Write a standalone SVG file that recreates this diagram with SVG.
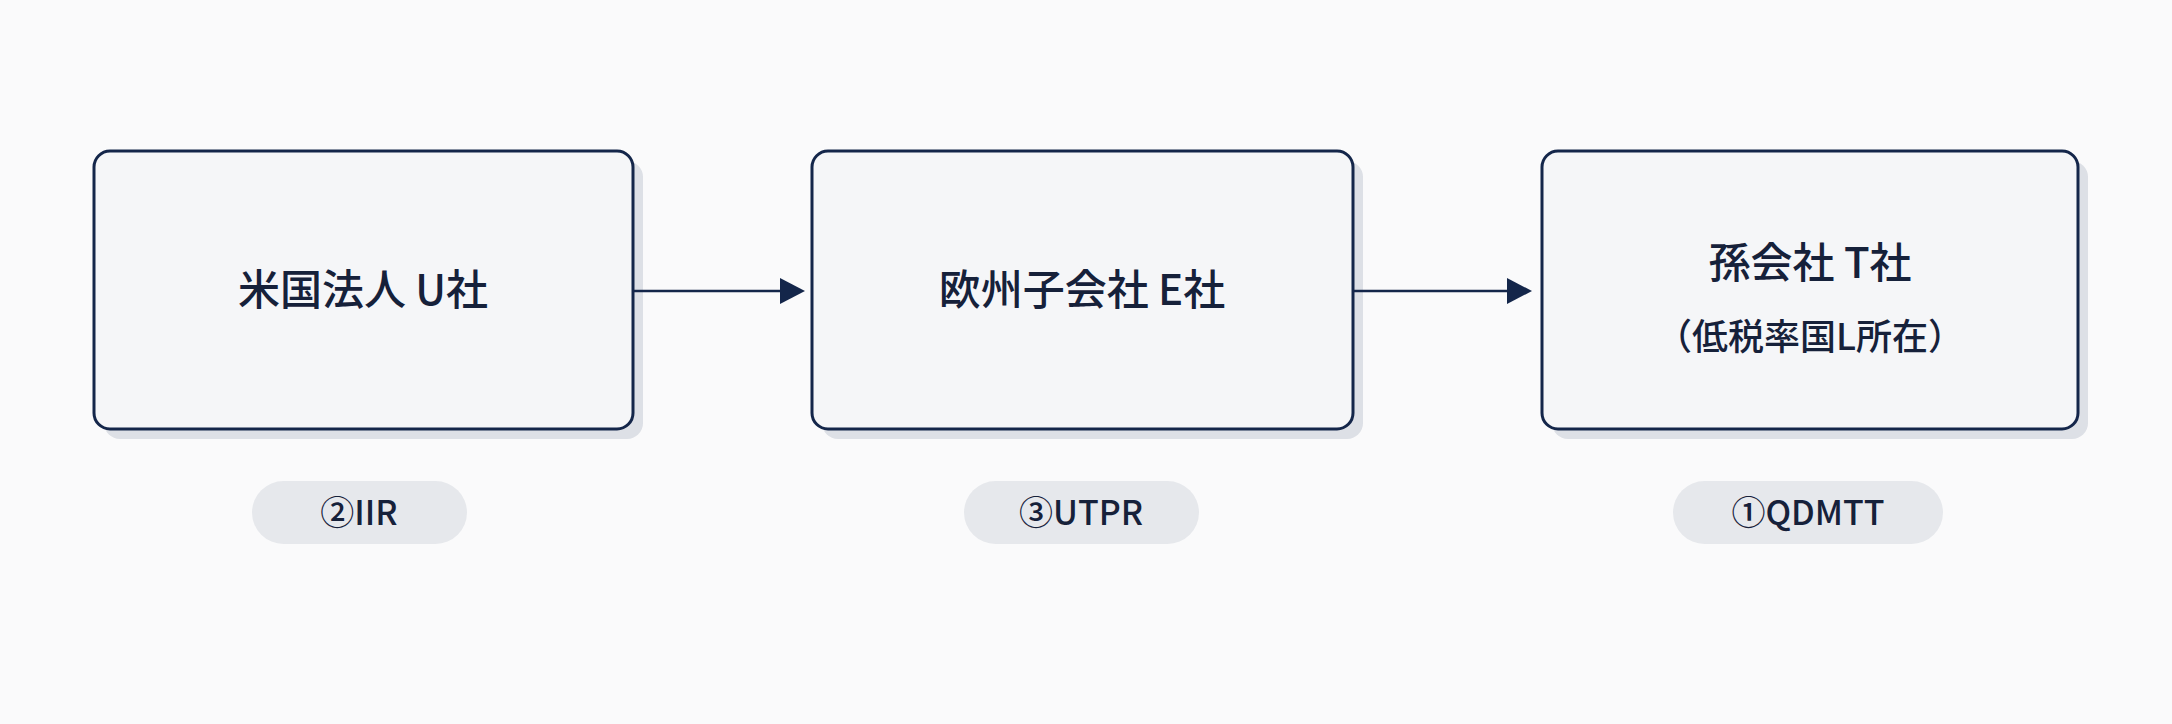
<svg xmlns="http://www.w3.org/2000/svg" width="2172" height="724" viewBox="0 0 2172 724">
<style>
.box{fill:#f5f6f8;stroke:#14264a;stroke-width:3}
.sh{fill:#dde0e6}
.t{font-family:"Noto Sans CJK JP","Noto Sans",sans-serif;fill:#16213a;text-anchor:middle;font-weight:500}
.pill{fill:#e6e8ec}
.c{stroke:#14264a;stroke-width:2.5;fill:none}
</style>
<defs><marker id="ah" markerWidth="10" markerHeight="10" refX="9" refY="5" orient="auto" markerUnits="userSpaceOnUse"><path d="M0,0 L0,0 L10,5 L0,10 z" fill="#14264a" transform="scale(2.6) translate(-6,-3)"/></marker></defs>
<rect width="2172" height="724" fill="#fafafb"/>
<g id="n1"><rect class="sh" x="104" y="161" width="539" height="278" rx="16"/><rect class="box" x="94" y="151" width="539" height="278" rx="16"/><text class="t" x="363" y="305" font-size="42">米国法人 U社</text></g>
<g id="n2"><rect class="sh" x="822" y="161" width="541" height="278" rx="16"/><rect class="box" x="812" y="151" width="541" height="278" rx="16"/><text class="t" x="1082" y="305" font-size="42">欧州子会社 E社</text></g>
<g id="n3"><rect class="sh" x="1552" y="161" width="536" height="278" rx="16"/><rect class="box" x="1542" y="151" width="536" height="278" rx="16"/><text class="t" x="1810" y="278" font-size="42">孫会社 T社</text><text class="t" x="1810" y="350" font-size="36">（低税率国L所在）</text></g>
<g id="connectors">
<line class="c" x1="634" y1="291" x2="785" y2="291"/><path d="M780,278 L805,291 L780,304 z" fill="#14264a"/>
<line class="c" x1="1354" y1="291" x2="1512" y2="291"/><path d="M1507,278 L1532,291 L1507,304 z" fill="#14264a"/>
</g>
<g id="p1"><rect class="pill" x="252" y="481" width="215" height="63" rx="31.5"/><text class="t" x="359" y="525" font-size="34">②IIR</text></g>
<g id="p2"><rect class="pill" x="964" y="481" width="235" height="63" rx="31.5"/><text class="t" x="1081" y="525" font-size="34">③UTPR</text></g>
<g id="p3"><rect class="pill" x="1673" y="481" width="270" height="63" rx="31.5"/><text class="t" x="1808" y="525" font-size="34">①QDMTT</text></g>
</svg>
